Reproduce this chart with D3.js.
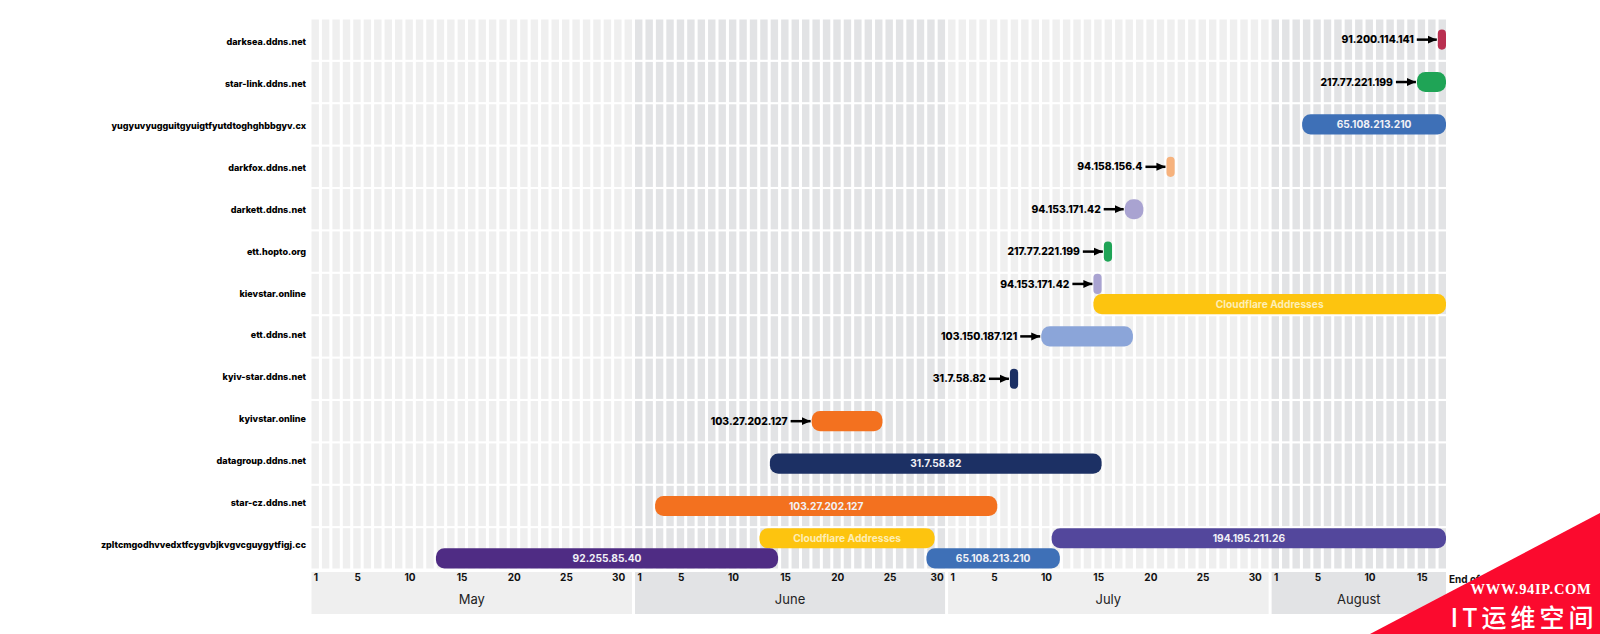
<!DOCTYPE html>
<html>
<head>
<meta charset="utf-8">
<script src="https://cdn.jsdelivr.net/npm/d3@7"></script>
<style>
  html, body { margin: 0; background: #fff; }
  svg { display: block; }
  text { font-family: Inter, "Noto Sans", sans-serif; }
</style>
</head>
<body>
<svg id="chart" width="1600" height="634"></svg>
<script>
const domains = [
  "darksea.ddns.net", "star-link.ddns.net", "yugyuvyugguitgyuigtfyutdtoghghbbgyv.cx",
  "darkfox.ddns.net", "darkett.ddns.net", "ett.hopto.org", "kievstar.online",
  "ett.ddns.net", "kyiv-star.ddns.net", "kyivstar.online", "datagroup.ddns.net",
  "star-cz.ddns.net", "zpltcmgodhvvedxtfcygvbjkvgvcguygytfigj.cc"
];
const months = ["May", "June", "July", "August"];
const dayTicks = [1, 5, 10, 15, 20, 25, 30];

// one entry per bar, same order in all four lists
const barDomains = [
  "darksea.ddns.net", "star-link.ddns.net", "yugyuvyugguitgyuigtfyutdtoghghbbgyv.cx",
  "darkfox.ddns.net", "darkett.ddns.net", "ett.hopto.org",
  "kievstar.online", "kievstar.online", "ett.ddns.net", "kyiv-star.ddns.net",
  "kyivstar.online", "datagroup.ddns.net", "star-cz.ddns.net",
  "zpltcmgodhvvedxtfcygvbjkvgvcguygytfigj.cc", "zpltcmgodhvvedxtfcygvbjkvgvcguygytfigj.cc",
  "zpltcmgodhvvedxtfcygvbjkvgvcguygytfigj.cc", "zpltcmgodhvvedxtfcygvbjkvgvcguygytfigj.cc"
];
const barStarts = [
  "08-17", "08-15", "08-04", "07-22", "07-18", "07-16", "07-15", "07-15", "07-10", "07-07",
  "06-18", "06-14", "06-03", "06-13", "05-13", "06-29", "07-11"
];
const barEnds = [
  "08-17", "08-17", "08-17", "07-22", "07-19", "07-16", "07-15", "08-17", "07-18", "07-07",
  "06-24", "07-15", "07-05", "06-29", "06-14", "07-11", "08-17"
];
const barLabels = [
  "91.200.114.141", "217.77.221.199", "65.108.213.210", "94.158.156.4", "94.153.171.42",
  "217.77.221.199", "94.153.171.42", "Cloudflare Addresses", "103.150.187.121", "31.7.58.82",
  "103.27.202.127", "31.7.58.82", "103.27.202.127", "Cloudflare Addresses", "92.255.85.40",
  "65.108.213.210", "194.195.211.26"
];

const ipNames = [
  "91.200.114.141", "217.77.221.199", "65.108.213.210", "94.158.156.4", "94.153.171.42",
  "Cloudflare Addresses", "103.150.187.121", "31.7.58.82", "103.27.202.127", "92.255.85.40", "194.195.211.26"
];
const ipColors = [
  "#b92f50", "#1fa456", "#3e70b7", "#f6b27d", "#a9a3d1",
  "#fdc40f", "#8ba5d9", "#1c3064", "#f3711f", "#4f2c84", "#53479c"
];

const parseDay = d3.utcParse("%Y-%m-%d");
const toDay = (s) => parseDay("2022-" + s);
const days = d3.utcDay.range(toDay("05-01"), toDay("08-18"));

const plotLeft = 311.5, plotRight = 1446, plotTop = 19.5, plotBottom = 568.5;

const x = d3.scaleBand().domain(days).range([plotLeft, plotRight]).paddingInner(0.29);
const y = d3.scaleBand().domain(domains).range([plotTop, plotBottom]).paddingInner(0.05);
// the names sit on a slightly tighter spacing than the rows
const yName = d3.scalePoint().domain(domains).range([41.8, 545]);
const color = d3.scaleOrdinal().domain(ipNames).range(ipColors);

const bars = barDomains.map((domain, i) => ({
  domain,
  start: toDay(barStarts[i]),
  end: toDay(barEnds[i]),
  label: barLabels[i]
}));

// bars that overlap in a row go on separate lanes, first come first served
domains.forEach((domain) => {
  const lanes = [];
  const inRow = bars.filter((b) => b.domain === domain);
  inRow.forEach((b) => {
    let lane = lanes.findIndex((end) => end < b.start);
    if (lane < 0) lane = lanes.length;
    lanes[lane] = b.end;
    b.lane = lane;
  });
  inRow.forEach((b) => (b.laneCount = lanes.length));
});

const svg = d3.select("#chart");

// June and August are the darker months
const monthFill = (d) => (d.getUTCMonth() % 2 === 1 ? "#e2e3e5" : "#efefef");

// background cells, one per domain and day
svg.append("g")
  .selectAll("g")
  .data(domains)
  .join("g")
  .attr("transform", (d) => `translate(0,${y(d)})`)
  .selectAll("rect")
  .data(days)
  .join("rect")
  .attr("x", (d) => x(d))
  .attr("width", x.bandwidth())
  .attr("height", y.bandwidth())
  .attr("fill", monthFill);

// month strip
const monthStarts = d3.utcMonth.range(toDay("05-01"), toDay("08-18"));
const month = svg.append("g")
  .selectAll("g")
  .data(monthStarts)
  .join("g");

const monthLast = (d) => {
  const last = d3.utcDay.offset(d3.utcMonth.offset(d, 1), -1);
  return last > days[days.length - 1] ? days[days.length - 1] : last;
};

month.append("rect")
  .attr("x", (d) => x(d))
  .attr("y", 572)
  .attr("width", (d) => x(monthLast(d)) + x.bandwidth() - x(d))
  .attr("height", 42)
  .attr("fill", monthFill);

month.append("text")
  .attr("x", (d) => (x(d) + x(monthLast(d)) + x.bandwidth()) / 2)
  .attr("y", 599)
  .attr("dy", "0.35em")
  .attr("text-anchor", "middle")
  .attr("font-size", 13)
  .attr("fill", "#222")
  .text((d, i) => months[i]);

// day ticks
const tickDays = days.filter((d) => dayTicks.includes(d.getUTCDate()));
const axis = d3.axisBottom(x)
  .tickValues(tickDays)
  .tickSize(0)
  .tickPadding(0)
  .tickFormat((d) => d.getUTCDate());
const axisG = svg.append("g").attr("transform", "translate(0,574)").call(axis);
axisG.select(".domain").remove();
axisG.selectAll("text")
  .style("font-family", "Inter, sans-serif")
  .attr("font-size", 10)
  .attr("font-weight", 700)
  .attr("fill", "#111")
  // a 30 on the last day of June would run into the next month's 1
  .attr("dx", (d) => (d3.utcDay.offset(d, 1).getUTCDate() === 1 ? -x.step() * 0.4 : 0.8));

svg.append("text")
  .attr("x", 1449)
  .attr("y", 579)
  .attr("dy", "0.35em")
  .attr("font-size", 10)
  .attr("font-weight", 700)
  .attr("fill", "#111")
  .text("End of");

// domain names
svg.append("g")
  .selectAll("text")
  .data(domains)
  .join("text")
  .attr("x", 306)
  .attr("y", (d) => yName(d))
  .attr("dy", "0.35em")
  .attr("text-anchor", "end")
  .attr("font-size", 9)
  .attr("font-weight", 800)
  .attr("fill", "#000")
  .text((d) => d);

// bars
const laneHeight = y.bandwidth() / 2;
const barY = (b) =>
  b.laneCount > 1 ? y(b.domain) + b.lane * laneHeight : y(b.domain) + (y.bandwidth() - laneHeight) / 2;
const barX = (b) => x(b.start) - 0.8;
const barW = (b) => x(b.end) + x.bandwidth() - barX(b);

svg.append("defs").append("marker")
  .attr("id", "head")
  .attr("viewBox", "0 0 9 9")
  .attr("refX", 9)
  .attr("refY", 4.5)
  .attr("markerUnits", "userSpaceOnUse")
  .attr("markerWidth", 9)
  .attr("markerHeight", 9)
  .attr("orient", "auto")
  .append("path")
  .attr("d", "M0,0.5L9,4.5L0,8.5Z")
  .attr("fill", "#000");

const bar = svg.append("g")
  .selectAll("g")
  .data(bars)
  .join("g");

bar.append("rect")
  .attr("x", barX)
  .attr("y", barY)
  .attr("width", barW)
  .attr("height", laneHeight)
  .attr("rx", (b) => Math.min(barW(b) / 2, 8.5))
  .attr("fill", (b) => color(b.label));

// wide bars carry their label, the short ones get an arrow
const inside = bar.filter((b) => barW(b) > 120);
const outside = bar.filter((b) => barW(b) <= 120);

inside.append("text")
  .attr("x", (b) => barX(b) + barW(b) / 2)
  .attr("y", (b) => barY(b) + laneHeight / 2)
  .attr("dy", "0.35em")
  .attr("text-anchor", "middle")
  .attr("font-size", 10.2)
  .attr("font-weight", 700)
  .attr("fill", (b) => (b.label.startsWith("Cloudflare") ? "#fdeeb4" : "#f1f1f6"))
  .text((b) => b.label);

outside.append("line")
  .attr("x1", (b) => barX(b) - 21)
  .attr("x2", (b) => barX(b) - 1)
  .attr("y1", (b) => barY(b) + laneHeight / 2)
  .attr("y2", (b) => barY(b) + laneHeight / 2)
  .attr("stroke", "#000")
  .attr("stroke-width", 2.5)
  .attr("marker-end", "url(#head)");

outside.append("text")
  .attr("x", (b) => barX(b) - 24)
  .attr("y", (b) => barY(b) + laneHeight / 2)
  .attr("dy", "0.35em")
  .attr("text-anchor", "end")
  .attr("font-size", 10.3)
  .attr("font-weight", 800)
  .attr("fill", "#000")
  .text((b) => b.label);

// corner stamp
const stamp = svg.append("g");
stamp.append("path").attr("d", "M1370,634L1600,513L1600,634Z").attr("fill", "#fb0a2e");
stamp.append("text")
  .attr("x", 1531).attr("y", 594)
  .attr("text-anchor", "middle")
  .attr("font-size", 14.5)
  .attr("font-weight", 700)
  .attr("letter-spacing", 0.7)
  .attr("fill", "#fff")
  .style("font-family", "'Liberation Serif', serif")
  .text("WWW.94IP.COM");
stamp.append("text")
  .attr("x", 1524).attr("y", 627)
  .attr("text-anchor", "middle")
  .attr("font-size", 25)
  .attr("font-weight", 500)
  .attr("letter-spacing", 4)
  .attr("fill", "#fff")
  .style("font-family", "'Noto Sans CJK SC', sans-serif")
  .text("IT运维空间");
</script>
</body>
</html>
